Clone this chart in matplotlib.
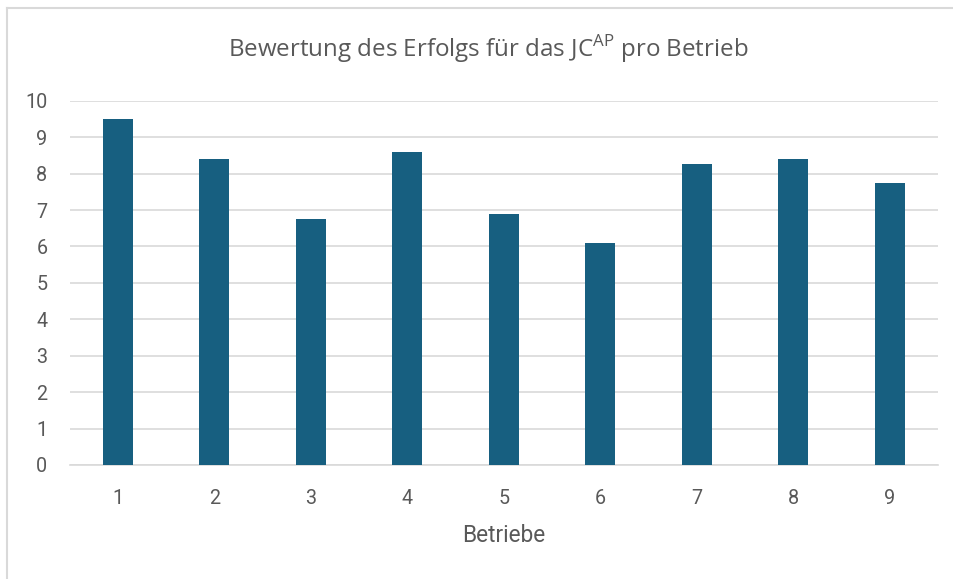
import matplotlib.pyplot as plt
from matplotlib.lines import Line2D

plt.rcParams['font.family'] = ['Roboto', 'DejaVu Sans']
plt.rcParams['mathtext.fontset'] = 'custom'
plt.rcParams['mathtext.rm'] = 'Open Sans'

betriebe = ['1', '2', '3', '4', '5', '6', '7', '8', '9']
bewertung = [9.5, 8.4, 6.75, 8.6, 6.9, 6.1, 8.25, 8.4, 7.75]
yticks = list(range(0, 11))

bar_color = '#175f80'
text_color = '#595959'
grid_color = '#d9d9d9'

fig = plt.figure(figsize=(9.54, 5.79), dpi=100)
ax = fig.add_axes([0.073, 0.197, 0.910, 0.629])

x = list(range(len(betriebe)))
ax.bar(x, bewertung, width=0.31, color=bar_color, zorder=3)

ax.set_xlim(-0.5, len(betriebe) - 0.5)
ax.set_ylim(0, 10)
ax.set_yticks(yticks)
ax.set_xticks(x)
ax.set_xticklabels(betriebe)
ax.yaxis.grid(True, color=grid_color, linewidth=1.2, zorder=0)
ax.set_axisbelow(True)
for s in ['top', 'right', 'left']:
    ax.spines[s].set_visible(False)
ax.spines['bottom'].set_color(grid_color)
ax.spines['bottom'].set_linewidth(1.2)
ax.tick_params(length=0, labelsize=14.2, colors=text_color)
ax.tick_params(axis='x', pad=17)
ax.tick_params(axis='y', pad=16)

ax.set_xlabel('Betriebe', fontsize=16.3, color=text_color, labelpad=12)
fig.text(0.512, 0.916, r'Bewertung des Erfolgs für das JC$^{\mathrm{AP}}$ pro Betrieb',
         ha='center', va='center', fontsize=17.4, color=text_color,
         family='Open Sans')

# chart area border (left and top only visible)
fig.add_artist(Line2D([7.5 / 954, 7.5 / 954], [0, 1 - 7.5 / 579],
                      transform=fig.transFigure, color=grid_color, linewidth=1.5))
fig.add_artist(Line2D([7.5 / 954, 1], [1 - 7.5 / 579, 1 - 7.5 / 579],
                      transform=fig.transFigure, color=grid_color, linewidth=1.5))

fig.savefig('out.png', dpi=100)
